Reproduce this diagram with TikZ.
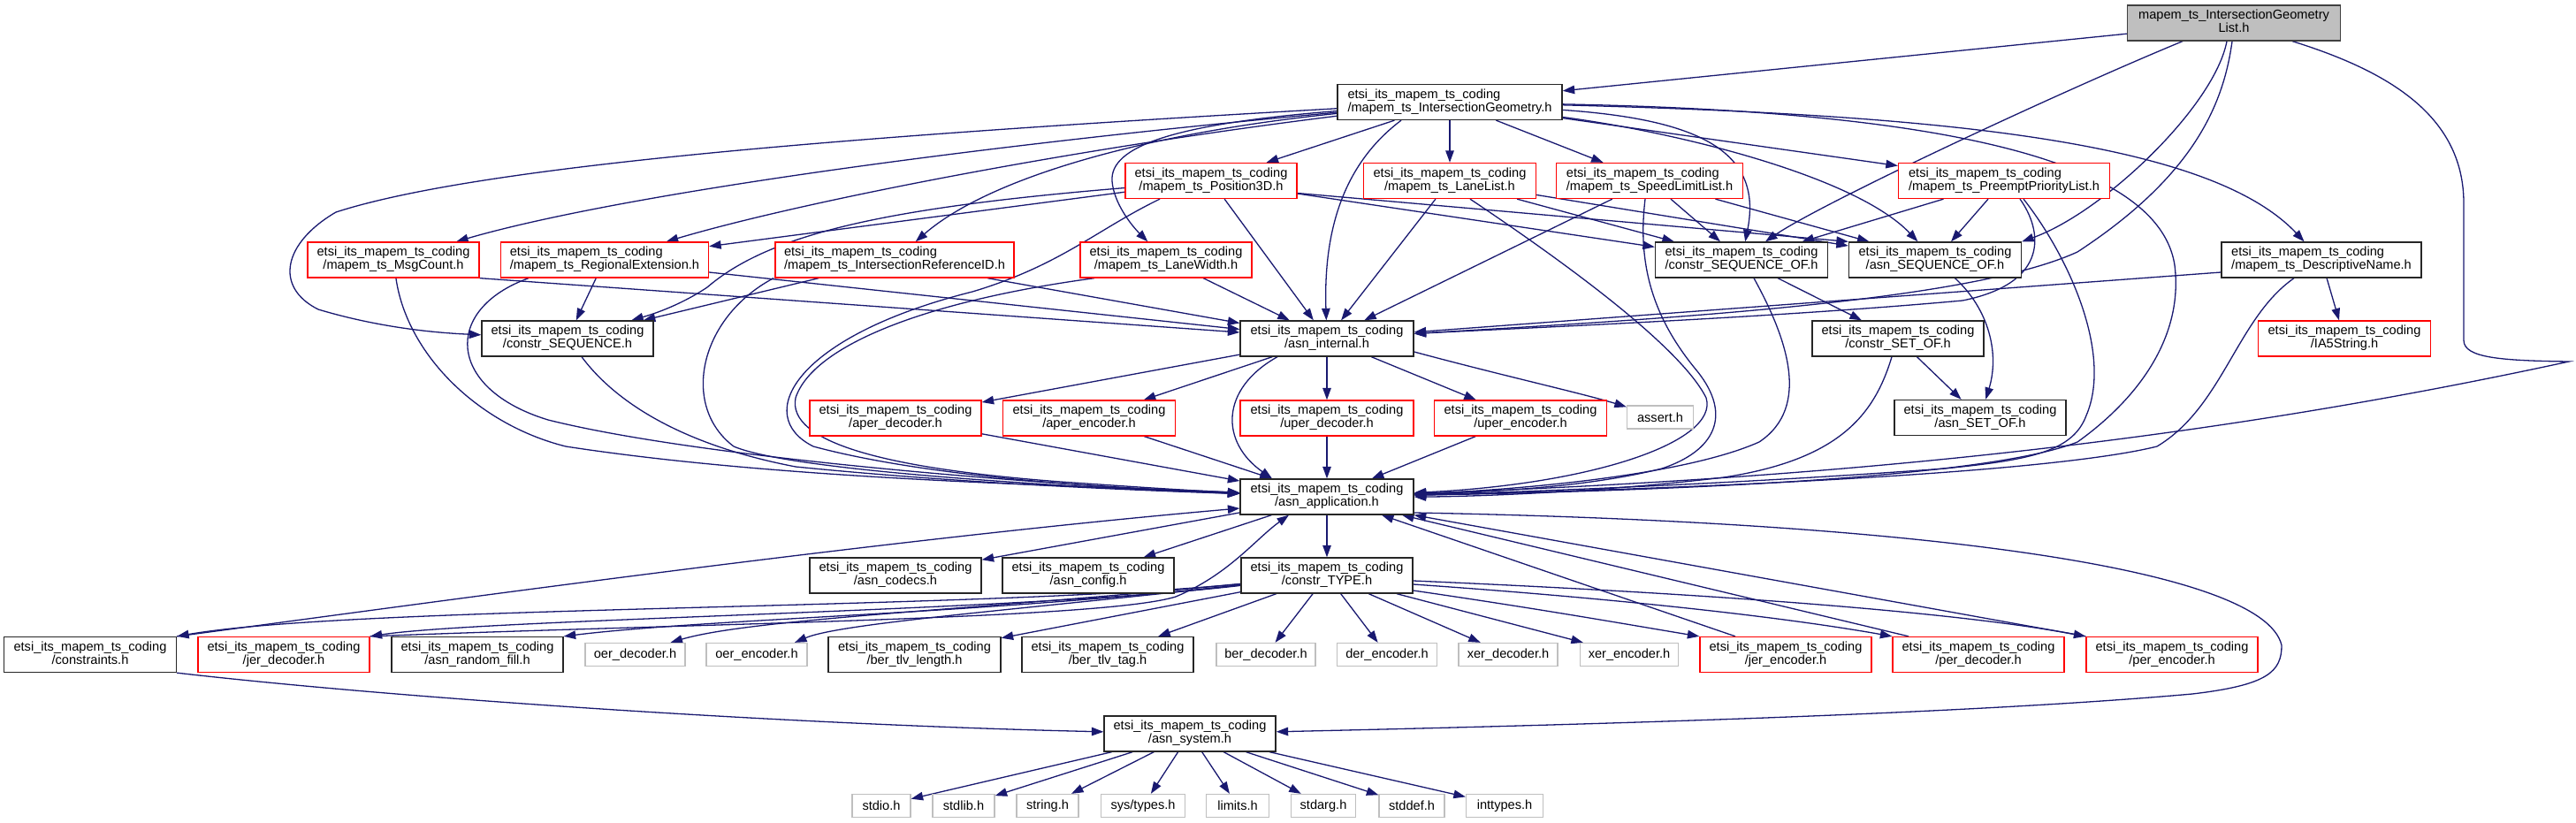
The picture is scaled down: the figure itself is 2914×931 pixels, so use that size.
\documentclass[tikz,border=0pt]{standalone}
\usepackage{fontspec}
\setmainfont{Liberation Sans}
\usetikzlibrary{arrows.meta}
\pgfdeclarelayer{bg}
\pgfsetlayers{bg,main}
\definecolor{edgecol}{HTML}{191970}
\definecolor{greyb}{HTML}{BFBFBF}
\newcommand\lbl[2]{\begin{tabular}{@{}l@{}}#1\\\hfill#2\hfill\mbox{}\end{tabular}}
\newcommand\ets[1]{\lbl{etsi\_its\_mapem\_ts\_coding}{#1}}
\tikzset{
  nbox/.style={draw=black!85, fill=white, line width=1.3pt, minimum height=40pt, inner sep=0pt,
    font=\fontsize{14.6pt}{14.3pt}\selectfont, align=center},
  rbox/.style={nbox, draw=red},
  gbox/.style={nbox, draw=greyb, minimum height=26pt},
  rootbox/.style={nbox, fill=greyb, draw=black!75},
  dep/.style={draw=edgecol, line width=1.3pt, -{Triangle[length=13.5pt,width=9.5pt]}}
}
\begin{document}
\begin{tikzpicture}[x=1pt,y=-1pt]
\useasboundingbox (0,0) rectangle (2914,931);
% nodes
\node[rootbox, minimum width=241pt] (root) at (2527,26) {\lbl{mapem\_ts\_IntersectionGeometry}{List.h}};
\node[nbox, minimum width=254pt] (ig) at (1640,115.5) {\ets{/mapem\_ts\_IntersectionGeometry.h}};
\node[rbox, minimum width=194pt] (p3d) at (1370,204.5) {\ets{/mapem\_ts\_Position3D.h}};
\node[rbox, minimum width=195pt] (ll) at (1640,204.5) {\ets{/mapem\_ts\_LaneList.h}};
\node[rbox, minimum width=211pt] (sll) at (1866,204.5) {\ets{/mapem\_ts\_SpeedLimitList.h}};
\node[rbox, minimum width=239pt] (ppl) at (2267,204.5) {\ets{/mapem\_ts\_PreemptPriorityList.h}};
\node[rbox, minimum width=194pt] (msg) at (445,294) {\ets{/mapem\_ts\_MsgCount.h}};
\node[rbox, minimum width=235pt] (reg) at (684,294) {\ets{/mapem\_ts\_RegionalExtension.h}};
\node[rbox, minimum width=270pt] (irid) at (1012,294) {\ets{/mapem\_ts\_IntersectionReferenceID.h}};
\node[rbox, minimum width=194pt] (lw) at (1319,294) {\ets{/mapem\_ts\_LaneWidth.h}};
\node[nbox, minimum width=195pt] (cso) at (1970,294) {\ets{/constr\_SEQUENCE\_OF.h}};
\node[nbox, minimum width=195pt] (aso) at (2189,294) {\ets{/asn\_SEQUENCE\_OF.h}};
\node[nbox, minimum width=226pt] (dn) at (2626,294) {\ets{/mapem\_ts\_DescriptiveName.h}};
\node[nbox, minimum width=194pt] (cs) at (642,383) {\ets{/constr\_SEQUENCE.h}};
\node[nbox, minimum width=196pt] (ai) at (1501,383) {\ets{/asn\_internal.h}};
\node[nbox, minimum width=194pt] (cset) at (2147,383) {\ets{/constr\_SET\_OF.h}};
\node[rbox, minimum width=195pt] (ia5) at (2652,383) {\ets{/IA5String.h}};
\node[rbox, minimum width=194pt] (aperd) at (1013,473) {\ets{/aper\_decoder.h}};
\node[rbox, minimum width=195pt] (apere) at (1232,473) {\ets{/aper\_encoder.h}};
\node[rbox, minimum width=196pt] (uperd) at (1501,473) {\ets{/uper\_decoder.h}};
\node[rbox, minimum width=195pt] (upere) at (1720,473) {\ets{/uper\_encoder.h}};
\node[gbox, minimum width=75pt] (assert) at (1878,472) {assert.h};
\node[nbox, minimum width=194pt] (aset) at (2240,472.5) {\ets{/asn\_SET\_OF.h}};
\node[nbox, minimum width=196pt] (aa) at (1501,562) {\ets{/asn\_application.h}};
\node[nbox, minimum width=194pt] (codecs) at (1013,651) {\ets{/asn\_codecs.h}};
\node[nbox, minimum width=194pt] (config) at (1231,651) {\ets{/asn\_config.h}};
\node[nbox, minimum width=194pt] (ctype) at (1501,651) {\ets{/constr\_TYPE.h}};
\node[nbox, minimum width=195pt] (constraints) at (102,740.5) {\ets{/constraints.h}};
\node[rbox, minimum width=194pt] (jerd) at (321,740.5) {\ets{/jer\_decoder.h}};
\node[nbox, minimum width=194pt] (rfill) at (540,740.5) {\ets{/asn\_random\_fill.h}};
\node[gbox, minimum width=113pt] (oerd) at (718.5,740.5) {oer\_decoder.h};
\node[gbox, minimum width=114pt] (oere) at (856,740.5) {oer\_encoder.h};
\node[nbox, minimum width=195pt] (tlvlen) at (1034.5,740.5) {\ets{/ber\_tlv\_length.h}};
\node[nbox, minimum width=194pt] (tlvtag) at (1253,740.5) {\ets{/ber\_tlv\_tag.h}};
\node[gbox, minimum width=112pt] (berd) at (1432,740.5) {ber\_decoder.h};
\node[gbox, minimum width=113pt] (dere) at (1569,740.5) {der\_encoder.h};
\node[gbox, minimum width=112pt] (xerd) at (1706,740.5) {xer\_decoder.h};
\node[gbox, minimum width=111pt] (xere) at (1843,740.5) {xer\_encoder.h};
\node[rbox, minimum width=194pt] (jere) at (2020,740.5) {\ets{/jer\_encoder.h}};
\node[rbox, minimum width=194pt] (perd) at (2238,740.5) {\ets{/per\_decoder.h}};
\node[rbox, minimum width=194pt] (pere) at (2457,740.5) {\ets{/per\_encoder.h}};
\node[nbox, minimum width=194pt] (sys) at (1346,830) {\ets{/asn\_system.h}};
\node[gbox, minimum width=66pt] (stdio) at (997,911.5) {stdio.h};
\node[gbox, minimum width=70pt] (stdlib) at (1090,911.5) {stdlib.h};
\node[gbox, minimum width=70pt] (string) at (1185,911.5) {string.h};
\node[gbox, minimum width=95pt] (systypes) at (1293,911.5) {sys/types.h};
\node[gbox, minimum width=71pt] (limits) at (1400,911.5) {limits.h};
\node[gbox, minimum width=73pt] (stdarg) at (1497,911.5) {stdarg.h};
\node[gbox, minimum width=74pt] (stddef) at (1597,911.5) {stddef.h};
\node[gbox, minimum width=87pt] (inttypes) at (1702,911.5) {inttypes.h};

\begin{pgfonlayer}{bg}
% root
\draw[dep] (root) -- (ig);
\draw[dep] ([xshift=-58pt]root.south) .. controls (2330,104) and (2060,230) .. ([xshift=27pt]cso.north);
\draw[dep] ([xshift=-8pt]root.south) .. controls (2505,120) and (2380,240) .. (aso.north east);
\draw[dep] ([xshift=-2pt]root.south) .. controls (2515,120) and (2480,200) .. (2350,285) .. controls (2230,340) and (1900,360) .. (ai);
\draw[dep] (root) .. controls (2700,80) and (2787,130) .. (2787,230) -- (2787,385) .. controls (2787,405) and (2830,408) .. (2906,409) .. controls (2500,497) and (2100,540) .. (aa);
% ig
\draw[dep] (ig) .. controls (1000,152) and (550,185) .. (380,240) .. controls (320,275) and (310,325) .. (360,350) .. controls (420,368) and (480,376) .. (cs);
\draw[dep] (ig) .. controls (1100,165) and (700,220) .. (msg);
\draw[dep] (ig) .. controls (1200,170) and (900,230) .. (reg);
\draw[dep] (ig) .. controls (1300,150) and (1120,200) .. (irid);
\draw[dep] (ig) .. controls (1330,140) and (1255,165) .. (1258,205) .. controls (1260,230) and (1280,255) .. (lw);
\draw[dep] (ig) -- (p3d);
\draw[dep] (ig) -- (ll);
\draw[dep] (ig) -- (sll);
\draw[dep] (ig) -- (ppl);
\draw[dep] ([xshift=-55pt]ig.south) .. controls (1520,185) and (1497,260) .. (ai);
\draw[dep] (ig) .. controls (1920,135) and (1995,170) .. (cso);
\draw[dep] (ig) .. controls (1900,150) and (2100,200) .. (aso);
\draw[dep] (ig) .. controls (2200,130) and (2500,160) .. (dn);
\draw[dep] (ig) .. controls (2150,125) and (2440,170) .. (2460,300) .. controls (2470,380) and (2420,450) .. (2350,500) .. controls (2250,540) and (1900,555) .. (aa);
% p3d
\draw[dep] (p3d) -- (reg);
\draw[dep] (p3d) .. controls (1000,235) and (870,265) .. (800,325) .. controls (770,345) and (740,355) .. (cs);
\draw[dep] (p3d) -- (ai);
\draw[dep] (p3d) -- (cso);
\draw[dep] ([yshift=-14pt]p3d.east) -- (aso.north west);
\draw[dep] ([xshift=-58pt]p3d.south) .. controls (1240,260) and (1200,300) .. (1100,330) .. controls (900,380) and (850,470) .. (920,505) .. controls (1050,540) and (1250,552) .. (aa);
% ll
\draw[dep] (ll) -- (ai);
\draw[dep] (ll) -- (cso);
\draw[dep] (ll) -- (aso);
\draw[dep] ([xshift=23pt]ll.south) .. controls (1760,290) and (1900,390) .. (1930,450) .. controls (1945,500) and (1800,548) .. (aa);
% sll
\draw[dep] (sll) -- (ai);
\draw[dep] (sll) -- (cso);
\draw[dep] (sll) -- (aso);
\draw[dep] ([xshift=-5pt]sll.south) .. controls (1852,300) and (1870,360) .. (1920,420) .. controls (1960,470) and (1940,510) .. (1880,530) .. controls (1800,550) and (1700,556) .. (aa);
% ppl
\draw[dep] (ppl) -- (cso);
\draw[dep] (ppl) -- (aso);
\draw[dep] ([xshift=18pt]ppl.south) .. controls (2310,260) and (2320,320) .. (2220,340) .. controls (2000,360) and (1700,372) .. (ai);
\draw[dep] ([xshift=22pt]ppl.south) .. controls (2340,290) and (2390,400) .. (2360,470) .. controls (2345,510) and (2300,520) .. (2200,530) .. controls (2000,545) and (1750,556) .. (aa);
% cso aso cset
\draw[dep] (cso) -- (cset);
\draw[dep] ([xshift=14pt]cso.south) .. controls (2020,380) and (2050,460) .. (1990,500) .. controls (1900,540) and (1700,555) .. (aa);
\draw[dep] (aso) .. controls (2250,350) and (2262,400) .. (aset);
\draw[dep] (cset) -- (aset);
\draw[dep] ([xshift=-7pt]cset.south) .. controls (2120,470) and (2080,520) .. (1950,540) .. controls (1800,558) and (1650,562) .. (aa);
% dn
\draw[dep] (dn) -- (ia5);
\draw[dep] ([yshift=-14pt]dn.west) -- (ai);
\draw[dep] ([xshift=-31pt]dn.south) .. controls (2530,360) and (2515,460) .. (2440,505) .. controls (2300,540) and (1800,556) .. (aa);
% row 3 to ai / aa
\draw[dep] (msg.south east) -- (ai);
\draw[dep] ([yshift=-14pt]reg.east) -- (ai);
\draw[dep] ([xshift=105pt]irid.south) -- (ai);
\draw[dep] (lw) -- (ai);
\draw[dep] (reg) -- (cs);
\draw[dep] (irid) -- (cs);
\draw[dep] (msg) .. controls (460,400) and (540,480) .. (640,505) .. controls (900,545) and (1250,550) .. (aa);
\draw[dep] ([xshift=-86pt]reg.south) .. controls (500,350) and (505,440) .. (620,475) .. controls (800,520) and (1200,550) .. (aa);
\draw[dep] ([xshift=16pt]cs.south) .. controls (700,460) and (780,505) .. (900,528) .. controls (1100,548) and (1300,555) .. (aa);
\draw[dep] ([xshift=-137pt]irid.south) .. controls (790,360) and (770,460) .. (830,505) .. controls (900,535) and (1250,553) .. (aa);
\draw[dep] ([xshift=-81pt]lw.south) .. controls (1050,340) and (920,390) .. (900,450) .. controls (890,500) and (1000,530) .. (1200,545) .. controls (1300,552) and (1350,555) .. (aa);
% ai
\draw[dep] (ai) -- (aperd);
\draw[dep] (ai) -- (apere);
\draw[dep] (ai) -- (uperd);
\draw[dep] (ai) -- (upere);
\draw[dep] ([yshift=-15pt]ai.east) .. controls (1700,425) and (1790,445) .. (assert);
\draw[dep] ([xshift=-56pt]ai.south) .. controls (1380,440) and (1380,500) .. ([xshift=-62pt]aa.north);
\draw[dep] (aperd) -- (aa);
\draw[dep] (apere) -- (aa);
\draw[dep] (uperd) -- (aa);
\draw[dep] (upere) -- (aa);
% aa
\draw[dep] (aa) -- (codecs);
\draw[dep] (aa) -- (config);
\draw[dep] (aa) -- (ctype);
\draw[dep] ([yshift=-18pt]aa.east) .. controls (2150,590) and (2560,640) .. (2581,730) .. controls (2581,760) and (2565,775) .. (2480,785) .. controls (2200,810) and (1700,822) .. (sys);
% ctype
\draw[dep] (ctype) .. controls (1100,690) and (400,685) .. (constraints.north east);
\draw[dep] (ctype) .. controls (1150,692) and (550,700) .. (jerd.north east);
\draw[dep] (ctype) .. controls (1100,695) and (800,700) .. (rfill.north east);
\draw[dep] (ctype) .. controls (1100,690) and (850,700) .. ([xshift=40pt]oerd.north);
\draw[dep] (ctype) .. controls (1150,690) and (950,705) .. ([xshift=43pt]oere.north);
\draw[dep] (ctype) -- (tlvlen);
\draw[dep] (ctype) -- (tlvtag);
\draw[dep] (ctype) -- (berd);
\draw[dep] (ctype) -- (dere);
\draw[dep] (ctype) -- (xerd);
\draw[dep] (ctype) -- (xere);
\draw[dep] ([yshift=-17pt]ctype.east) .. controls (1750,690) and (1850,708) .. (jere.north west);
\draw[dep] ([yshift=-10pt]ctype.east) .. controls (1800,675) and (2000,695) .. (perd.north west);
\draw[dep] ([yshift=-6pt]ctype.east) .. controls (1900,670) and (2200,690) .. (pere.north west);
% back edges to aa
\draw[dep] (constraints.north east) .. controls (500,680) and (1000,610) .. ([yshift=-13pt]aa.west);
\draw[dep] (jerd.north east) .. controls (800,705) and (1250,700) .. (1330,675) .. controls (1390,650) and (1420,610) .. ([xshift=-43pt]aa.south);
\draw[dep] ([xshift=-57pt]jere.north) -- ([xshift=62pt]aa.south);
\draw[dep] ([xshift=-79pt]perd.north) -- ([xshift=85pt]aa.south);
\draw[dep] (pere.north west) -- (aa.south east);
% system
\draw[dep] (constraints.south east) .. controls (450,790) and (900,820) .. (sys);
\foreach \t in {stdio,stdlib,string,systypes,limits,stdarg,stddef,inttypes}
  \draw[dep] (sys) -- (\t);
\end{pgfonlayer}
\end{tikzpicture}
\end{document}
